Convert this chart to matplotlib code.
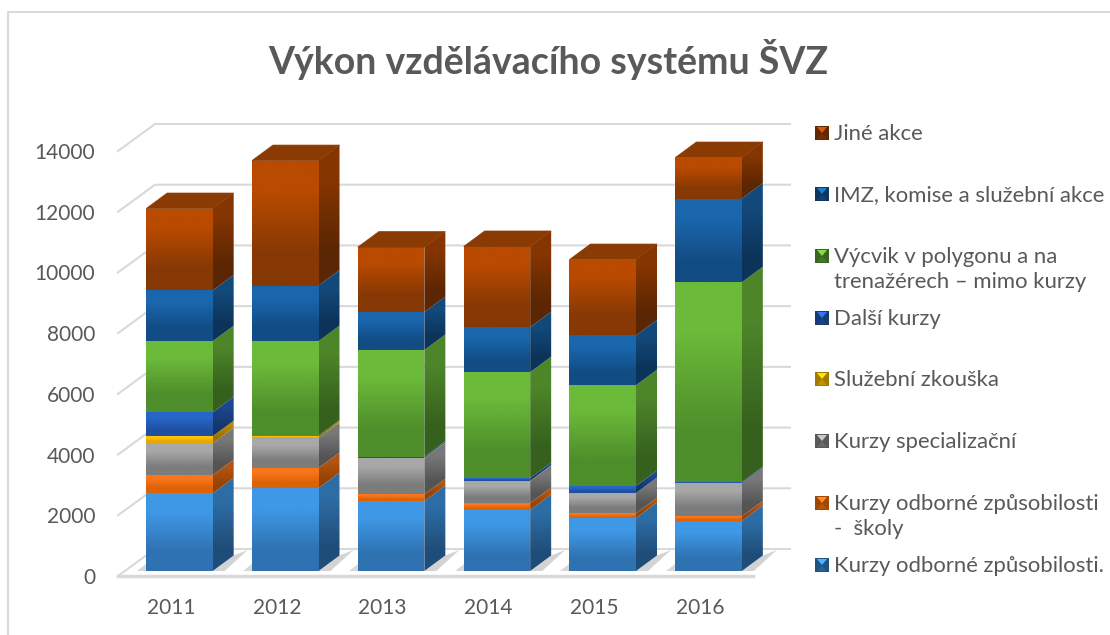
import numpy as np
from matplotlib import pyplot as plt
from matplotlib.patches import Polygon
from matplotlib.colors import to_rgb

plt.rcParams['font.family'] = ['Lato', 'DejaVu Sans']

roky = ["2011", "2012", "2013", "2014", "2015", "2016"]
yticks = [0, 2000, 4000, 6000, 8000, 10000, 12000, 14000]

# hodnoty, od spodu nahoru
odborne = [2560, 2730, 2300, 2010, 1745, 1650]
skoly = [600, 660, 230, 230, 155, 150]
specializacni = [1050, 985, 1190, 720, 670, 1100]
zkouska = [230, 65, 10, 10, 0, 0]
dalsi = [790, 20, 40, 90, 230, 30]
vycvik = [2340, 3110, 3510, 3490, 3320, 6580]
imz = [1670, 1830, 1250, 1480, 1640, 2760]
jine = [2700, 4120, 2140, 2660, 2500, 1350]

serie = [odborne, skoly, specializacni, zkouska, dalsi, vycvik, imz, jine]
barvy = ["#3f98e6", "#f9761a", "#a8a8a8", "#ffc000", "#2765c8", "#6cba3a", "#1a66ac", "#b94a00"]
spodek = ["#2f72b2", "#dd6206", "#7c7c7c", "#e2a900", "#1f50a0", "#4e8e2b", "#124c84", "#863805"]

jmena = ["Kurzy odborné způsobilosti.", "Kurzy odborné způsobilosti\n-  školy",
         "Kurzy specializační", "Služební zkouška", "Další kurzy",
         "Výcvik v polygonu a na\ntrenažérech – mimo kurzy",
         "IMZ, komise a služební akce", "Jiné akce"]
legend_y = [565, 503, 441, 379, 318, 256, 194, 133]

W, H = 1110, 635
fig = plt.figure(figsize=[W / 100, H / 100], dpi=100)

# pozadi v pixelech: ramecek a legenda
bg = fig.add_axes([0, 0, 1, 1])
bg.set_xlim(0, W)
bg.set_ylim(H, 0)
bg.axis("off")
bg.plot([8, 8, W], [H, 12, 12], color="#d9d9d9", lw=1.5)

# hlavni osa: predni hrana podlahy, 118-753 px, 0 na 576 px, 14000 na 151 px
ax = fig.add_axes([118 / W, (H - 576) / H, 635 / W, 425 / H])
ax.patch.set_alpha(0)
for s in ax.spines.values():
    s.set_visible(False)
px_x = 105.83
px_y = 425 / 14000


def dx(p):
    return p / px_x


def dy(p):
    return p / px_y


def mix(c, f):
    return tuple(min(v * f, 1) for v in to_rgb(c))


def grad(poly, c1, c2):
    # svisly gradient oriznuty na polygon
    poly = np.array(poly)
    g = np.array([[c1], [c2]])
    im = ax.imshow(g, extent=[poly[:, 0].min(), poly[:, 0].max(), poly[:, 1].min(), poly[:, 1].max()],
                   origin="upper", aspect="auto", interpolation="bilinear", zorder=3)
    p = Polygon(poly, transform=ax.transData, fc="none", ec="none")
    ax.add_patch(p)
    im.set_clip_path(p)
    im.set_clip_box(fig.bbox)  # posledni sloupec presahuje osu


x0, x1 = -0.5, 5.5
hloubka_x, hloubka_y = dx(37), dy(27)
seda = "#d9d9d9"

# mrizka: zadni stena a bok
for t in yticks[1:]:
    ax.plot([x0, x0 + hloubka_x, x1 + hloubka_x], [t, t + hloubka_y, t + hloubka_y],
            color=seda, lw=1.5, clip_on=False, zorder=1)
# podlaha
ax.plot([x0, x0 + hloubka_x, x1 + hloubka_x], [0, hloubka_y, hloubka_y],
        color=seda, lw=1.5, clip_on=False, zorder=1)
ax.plot([x0, x1], [0, 0], color=seda, lw=2.5, clip_on=False, zorder=1)

# sloupce
sirka = dx(66.5)
bok_x, bok_y = dx(21), dy(15.5)
pos_x, pos_y = dx(8.5), dy(5)
hodnoty = np.array(serie, dtype=float)
vrsky = hodnoty.cumsum(axis=0)
for i in range(len(roky)):
    l = i + pos_x - sirka / 2
    r = l + sirka
    zem = pos_y
    # stin na podlaze
    ax.add_patch(Polygon([[r, zem], [r + bok_x, zem + bok_y], [r + bok_x + dx(14), zem + dy(21)],
                          [r + dx(12), zem]], fc="#bcbcbc", ec="none", alpha=0.65, zorder=2, clip_on=False))
    ax.add_patch(Polygon([[l - dx(9), zem], [l, zem], [l, zem + dy(7)]],
                         fc="#c4c4c4", ec="none", alpha=0.65, zorder=2))
    dole = zem
    for k in range(len(serie)):
        if hodnoty[k, i] <= 0:
            continue
        nahore = vrsky[k, i] + zem
        c1, c2 = barvy[k], spodek[k]
        grad([[r, dole], [r + bok_x, dole + bok_y], [r + bok_x, nahore + bok_y], [r, nahore]],
             mix(c1, 0.72), mix(c2, 0.68))
        grad([[l, dole], [r, dole], [r, nahore], [l, nahore]], to_rgb(c1), to_rgb(c2))
        dole = nahore
    vrch = vrsky[-1, i] + zem
    ax.add_patch(Polygon([[l, vrch], [r, vrch], [r + bok_x, vrch + bok_y], [l + bok_x, vrch + bok_y]],
                         fc="#8a3a03", ec="#8a3a03", lw=0.5, zorder=4, clip_on=False))

ax.set_xlim(x0, x1)
ax.set_ylim(0, 14000)
ax.set_xticks(range(len(roky)), labels=roky)
ax.set_yticks(yticks)
ax.tick_params(axis="both", length=0, labelsize=15, labelcolor="#595959")
ax.tick_params(axis="x", pad=16)
ax.tick_params(axis="y", pad=16.5)

bg.text(548, 60, "Výkon vzdělávacího systému ŠVZ", fontsize=27, fontweight="bold",
        color="#595959", ha="center", va="center")

# legenda
for k in range(len(serie)):
    y = legend_y[k]
    a, b = 815, 829
    t, d = y - 7, y + 7
    m = ((a + b) / 2, y)
    bg.add_patch(Polygon([[a, t], [b, t], [b, d], [a, d]], fc=mix(spodek[k], 0.72), ec="none"))
    bg.add_patch(Polygon([[a + 2, t + 1], [b - 2, t + 1], m], fc=mix(barvy[k], 1.2), ec="none"))
    bg.add_patch(Polygon([[a + 2, d - 1], [b - 2, d - 1], m], fc=mix(spodek[k], 0.85), ec="none"))
    bg.text(834, y - 9, jmena[k], fontsize=15.9, color="#595959", va="top", ha="left", linespacing=1.3)

fig.savefig("out.png", dpi=100)
